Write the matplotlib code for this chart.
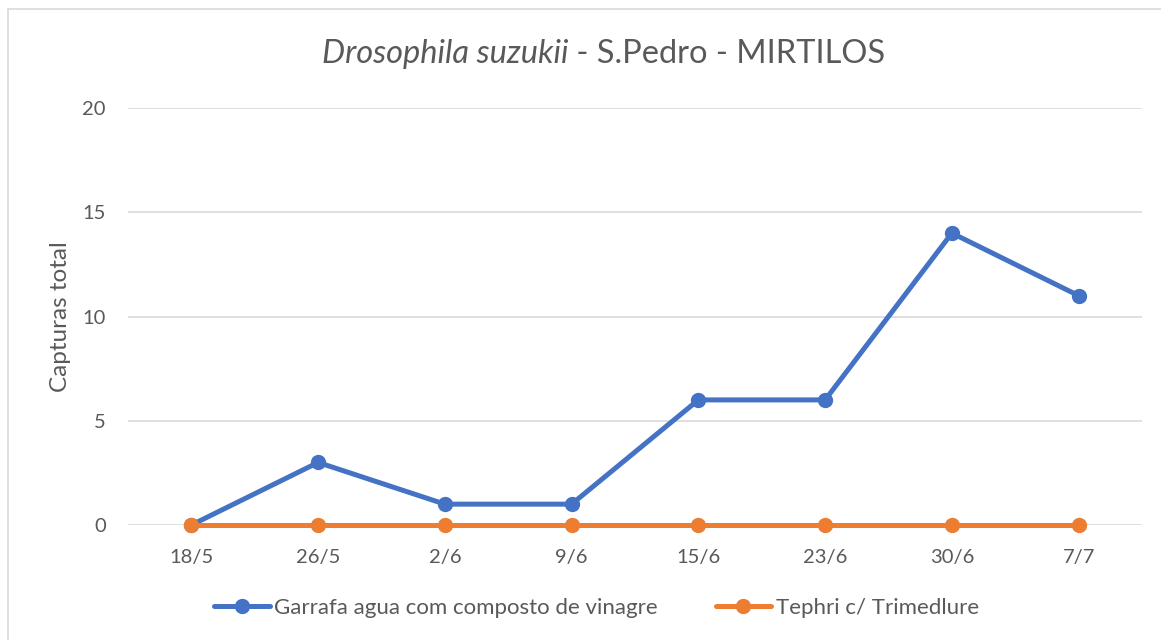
import matplotlib.pyplot as plt
from matplotlib.patches import Rectangle

# data
datas = ["18/5", "26/5", "2/6", "9/6", "15/6", "23/6", "30/6", "7/7"]
garrafa = [0, 3, 1, 1, 6, 6, 14, 11]
tephri = [0, 0, 0, 0, 0, 0, 0, 0]
nomes = ["Garrafa agua com composto de vinagre", "Tephri c/ Trimedlure"]

AZUL = "#4472C4"
LARANJA = "#ED7D31"
TEXTO = "#595959"
GRELHA = "#D9D9D9"

plt.rcParams['font.family'] = ['Lato', 'DejaVu Sans']

W, H = 1161, 640
fig = plt.figure(figsize=(W / 100, H / 100), dpi=100)

# chart area border (cropped at right and bottom in the original)
fig.patches.append(Rectangle((8 / W, -0.1), 1.2, 1.1 - 9 / H, transform=fig.transFigure,
                             fill=False, edgecolor=GRELHA, lw=1.2))

ax = fig.add_axes([128 / W, 1 - 525 / H, (1142 - 128) / W, (525 - 108) / H])
x = list(range(len(datas)))

ax.plot(x, garrafa, color=AZUL, lw=3.6, marker='o', ms=10, label=nomes[0],
        clip_on=False, zorder=3, solid_capstyle='round')
ax.plot(x, tephri, color=LARANJA, lw=3.6, marker='o', ms=10, label=nomes[1],
        clip_on=False, zorder=4, solid_capstyle='round')

ax.set_xlim(-0.5, len(datas) - 0.5)
ax.set_ylim(0, 20)
ax.set_yticks([0, 5, 10, 15, 20])
ax.set_xticks(x)
ax.set_xticklabels(datas)
ax.yaxis.grid(True, color=GRELHA, lw=1.2)
ax.set_axisbelow(True)
for s in ax.spines.values():
    s.set_visible(False)
ax.tick_params(axis='both', length=0, labelsize=14.5, labelcolor=TEXTO)
ax.tick_params(axis='x', pad=17)
ax.tick_params(axis='y', pad=16)

ax.set_ylabel("Capturas total", fontsize=17.5, color=TEXTO, labelpad=8)

# title: italic species name followed by regular text
t1 = fig.text(0, 0, "Drosophila suzukii", fontsize=23.5, color=TEXTO, style='italic',
              va='center')
t2 = fig.text(0, 0, " - S.Pedro - MIRTILOS", fontsize=23.5, color=TEXTO, va='center')
fig.canvas.draw()
r = fig.canvas.get_renderer()
w1 = t1.get_window_extent(r).width
w2 = t2.get_window_extent(r).width
x0 = (W - (w1 + w2)) / 2 + 23
yt = 1 - 54 / H
t1.set_position((x0 / W, yt))
t2.set_position(((x0 + w1) / W, yt))

fig.legend(loc='center', bbox_to_anchor=(0.5 + 16 / W, 1 - 608 / H), ncol=2, frameon=False,
           fontsize=16, labelcolor=TEXTO, handlelength=2.5, handletextpad=0.2,
           columnspacing=2.6)

fig.savefig("out.png", dpi=100)
